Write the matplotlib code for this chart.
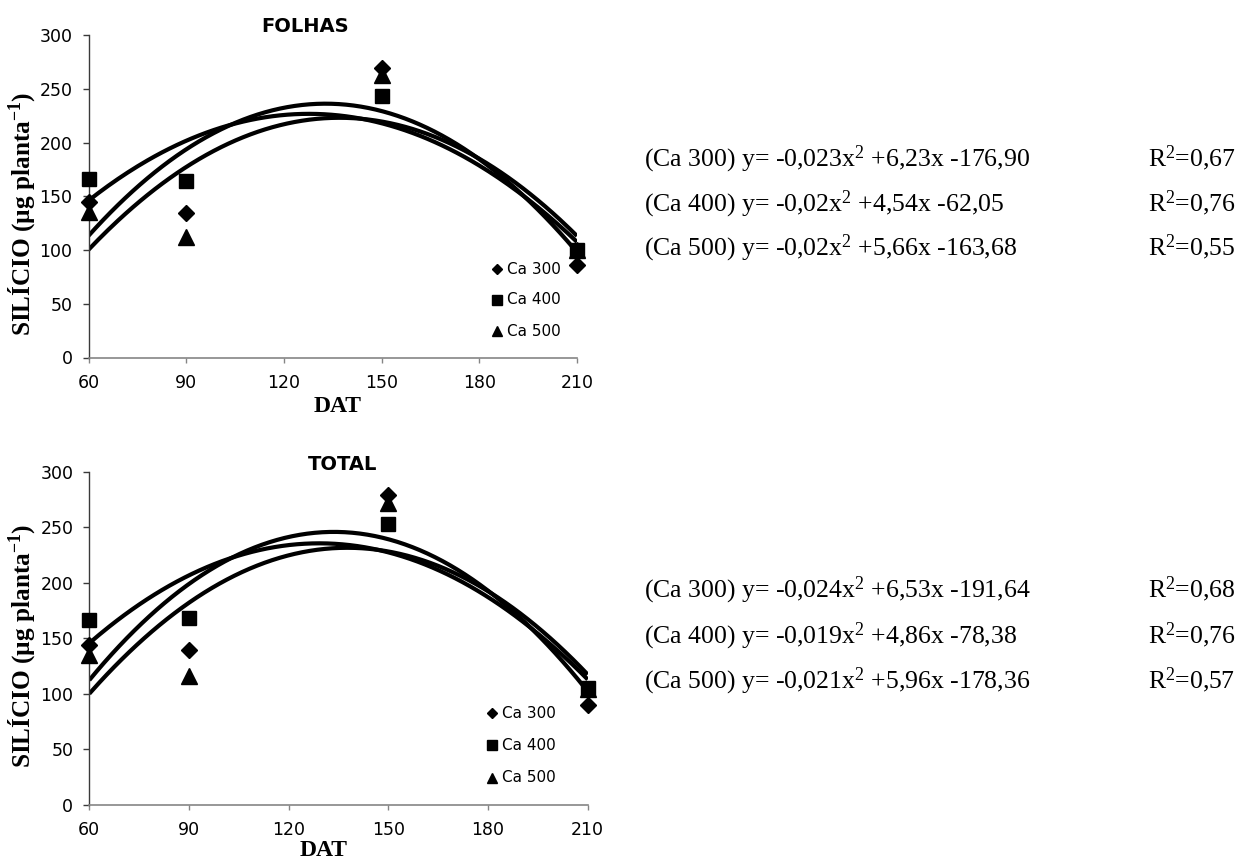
import numpy as np
import matplotlib
matplotlib.use("Agg")
from matplotlib import pyplot as plt

plt.rcParams["mathtext.fontset"] = "custom"
plt.rcParams["mathtext.rm"] = "Liberation Serif"
plt.rcParams["mathtext.it"] = "Liberation Serif:italic"
plt.rcParams["mathtext.bf"] = "Liberation Serif:bold"

# dias apos o transplantio
dat = [60, 90, 150, 210]
doses = ["Ca 300", "Ca 400", "Ca 500"]

# silicio nas folhas (ug planta-1)
folhas_ca300 = [145, 134, 269, 86]
folhas_ca400 = [166, 164, 243, 100]
folhas_ca500 = [135, 112, 263, 100]

# silicio total (ug planta-1)
total_ca300 = [144, 139, 279, 90]
total_ca400 = [166, 168, 253, 105]
total_ca500 = [135, 116, 272, 104]

eq_folhas = ["-0,023x$^2$ +6,23x -176,90", "-0,02x$^2$ +4,54x -62,05", "-0,02x$^2$ +5,66x -163,68"]
r2_folhas = ["0,67", "0,76", "0,55"]
eq_total = ["-0,024x$^2$ +6,53x -191,64", "-0,019x$^2$ +4,86x -78,38", "-0,021x$^2$ +5,96x -178,36"]
r2_total = ["0,68", "0,76", "0,57"]

W, H = 1239, 861
fig = plt.figure(figsize=(W / 100, H / 100), dpi=100)

markers = {"Ca 300": ("D", 8.5), "Ca 400": ("s", 10.5), "Ca 500": ("^", 11)}
leg_ms = {"Ca 300": 5, "Ca 400": 6.5, "Ca 500": 7}
zord = {"Ca 300": 5, "Ca 400": 6, "Ca 500": 4}


def fx(px):
    return px / W


def fy(py):
    return 1 - py / H


def painel(rect, series, titulo, tit_xy, leg_x, leg_y, dat_xy, ylab_xy):
    ax = fig.add_axes([fx(rect[0]), fy(rect[3]), (rect[1] - rect[0]) / W, (rect[3] - rect[2]) / H])
    xs = np.linspace(60, 210, 200)
    for nome, vals in zip(doses, series):
        coef = np.polyfit(dat, vals, 2)
        ax.plot(xs, np.polyval(coef, xs), color="black", lw=3, zorder=2, solid_capstyle="butt")
    for nome, vals in zip(doses, series):
        m, ms = markers[nome]
        ax.plot(dat, vals, ls="none", marker=m, ms=ms, color="black", zorder=zord[nome], clip_on=False)
    ax.set_xlim(60, 210)
    ax.set_ylim(0, 300)
    ax.set_xticks([60, 90, 120, 150, 180, 210])
    ax.set_yticks(range(0, 301, 50))
    for s in ["top", "right"]:
        ax.spines[s].set_visible(False)
    ax.spines["bottom"].set_color("#858585")
    ax.spines["left"].set_color("#3a3a3a")
    ax.spines["bottom"].set_linewidth(1.2)
    ax.spines["left"].set_linewidth(1.0)
    ax.tick_params(axis="x", direction="out", length=3.6, width=1, color="#858585", pad=8.5,
                   labelsize=12.5, labelfontfamily="DejaVu Sans")
    ax.tick_params(axis="y", direction="out", length=4.0, width=1, color="#3a3a3a", pad=7.5,
                   labelsize=12.5, labelfontfamily="DejaVu Sans")

    # titulo do painel
    fig.text(fx(tit_xy[0]), fy(tit_xy[1]), titulo, ha="center", va="center",
             fontsize=14, fontweight="bold", family="DejaVu Sans")
    # legenda
    for i, nome in enumerate(doses):
        y = leg_y[i]
        m, _ = markers[nome]
        fig.lines.append(plt.Line2D([fx(leg_x - 10)], [fy(y)], marker=m, ms=leg_ms[nome],
                                    color="black", ls="none", transform=fig.transFigure))
        fig.text(fx(leg_x), fy(y), nome, ha="left", va="center", fontsize=11,
                 family="DejaVu Sans")
    fig.text(fx(dat_xy[0]), fy(dat_xy[1]), "DAT", ha="center", va="baseline",
             fontsize=17, fontweight="bold", family="Liberation Serif")
    fig.text(fx(ylab_xy[0]), fy(ylab_xy[1]), r"SILÍCIO (µg planta$^{\mathbf{-1}}$)",
             ha="center", va="center", rotation=90, fontsize=18.2, fontweight="bold",
             family="Liberation Serif")
    return ax


painel((88.5, 577, 35, 357.5), [folhas_ca300, folhas_ca400, folhas_ca500], "FOLHAS",
       (305, 26.5), 507, [269, 300, 331], (338, 412.5), (21.5, 214))
painel((89.3, 587.7, 471.7, 804.5), [total_ca300, total_ca400, total_ca500], "TOTAL",
       (343, 465), 502, [713, 745, 778], (324, 856), (21.5, 646))


def equacoes(rows, eqs, r2s):
    for y, nome, eq, r2 in zip(rows, doses, eqs, r2s):
        fig.text(fx(644), fy(y), "(%s) y= %s" % (nome, eq), ha="left", va="baseline",
                 fontsize=18.5, family="Liberation Serif")
        fig.text(fx(1148), fy(y), "R$^2$=%s" % r2, ha="left", va="baseline",
                 fontsize=18.5, family="Liberation Serif")


equacoes([166, 211, 255], eq_folhas, r2_folhas)
equacoes([597, 643, 688], eq_total, r2_total)

fig.savefig("out.png", dpi=100, facecolor="white")
